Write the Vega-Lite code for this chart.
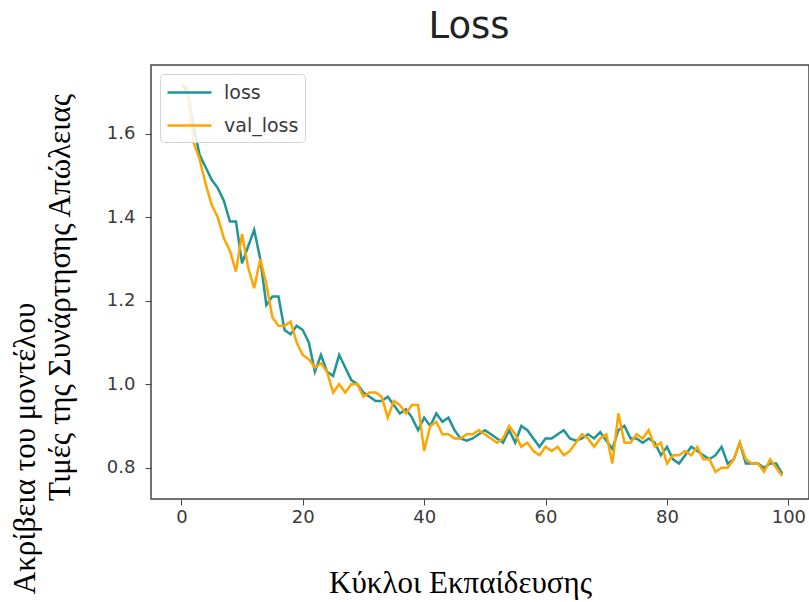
{
  "$schema": "https://vega.github.io/schema/vega-lite/v6.json",
  "width": 658,
  "height": 434,
  "autosize": {"type": "none"},
  "padding": {"left": 151, "top": 65, "right": 0, "bottom": 103},
  "background": "white",
  "title": {"text": "Loss", "font": "DejaVu Sans", "fontSize": 37, "fontWeight": "normal", "color": "#222222", "anchor": "middle", "dx": -11, "offset": 19},
  "config": {
    "view": {"stroke": "#444444", "strokeWidth": 1.5},
    "axis": {"grid": false, "domain": false, "tickColor": "#444444", "tickSize": 6, "labelFont": "DejaVu Sans", "labelFontSize": 18, "labelColor": "#3a3a3a", "titleFont": "Liberation Serif", "titleFontSize": 31, "titleFontWeight": "normal", "titleColor": "#000000"}
  },
  "data": {"values": [
    {"epoch":0,"loss":1.72,"val_loss":1.72},{"epoch":1,"loss":1.70,"val_loss":1.71},{"epoch":2,"loss":1.62,"val_loss":1.58},{"epoch":3,"loss":1.55,"val_loss":1.54},{"epoch":4,"loss":1.52,"val_loss":1.48},
    {"epoch":5,"loss":1.49,"val_loss":1.43},{"epoch":6,"loss":1.47,"val_loss":1.40},{"epoch":7,"loss":1.44,"val_loss":1.35},{"epoch":8,"loss":1.39,"val_loss":1.32},{"epoch":9,"loss":1.39,"val_loss":1.27},
    {"epoch":10,"loss":1.29,"val_loss":1.36},{"epoch":11,"loss":1.33,"val_loss":1.28},{"epoch":12,"loss":1.37,"val_loss":1.23},{"epoch":13,"loss":1.30,"val_loss":1.30},{"epoch":14,"loss":1.19,"val_loss":1.24},
    {"epoch":15,"loss":1.21,"val_loss":1.16},{"epoch":16,"loss":1.21,"val_loss":1.14},{"epoch":17,"loss":1.13,"val_loss":1.14},{"epoch":18,"loss":1.12,"val_loss":1.15},{"epoch":19,"loss":1.14,"val_loss":1.10},
    {"epoch":20,"loss":1.13,"val_loss":1.07},{"epoch":21,"loss":1.10,"val_loss":1.06},{"epoch":22,"loss":1.03,"val_loss":1.04},{"epoch":23,"loss":1.07,"val_loss":1.05},{"epoch":24,"loss":1.03,"val_loss":1.03},
    {"epoch":25,"loss":1.02,"val_loss":0.98},{"epoch":26,"loss":1.07,"val_loss":1.00},{"epoch":27,"loss":1.04,"val_loss":0.98},{"epoch":28,"loss":1.01,"val_loss":1.00},{"epoch":29,"loss":1.00,"val_loss":1.00},
    {"epoch":30,"loss":0.98,"val_loss":0.97},{"epoch":31,"loss":0.97,"val_loss":0.98},{"epoch":32,"loss":0.96,"val_loss":0.98},{"epoch":33,"loss":0.96,"val_loss":0.97},{"epoch":34,"loss":0.97,"val_loss":0.92},
    {"epoch":35,"loss":0.95,"val_loss":0.96},{"epoch":36,"loss":0.93,"val_loss":0.95},{"epoch":37,"loss":0.94,"val_loss":0.93},{"epoch":38,"loss":0.92,"val_loss":0.95},{"epoch":39,"loss":0.89,"val_loss":0.95},
    {"epoch":40,"loss":0.92,"val_loss":0.84},{"epoch":41,"loss":0.90,"val_loss":0.90},{"epoch":42,"loss":0.93,"val_loss":0.91},{"epoch":43,"loss":0.91,"val_loss":0.88},{"epoch":44,"loss":0.92,"val_loss":0.88},
    {"epoch":45,"loss":0.89,"val_loss":0.87},{"epoch":46,"loss":0.87,"val_loss":0.87},{"epoch":47,"loss":0.865,"val_loss":0.88},{"epoch":48,"loss":0.87,"val_loss":0.88},{"epoch":49,"loss":0.88,"val_loss":0.89},
    {"epoch":50,"loss":0.89,"val_loss":0.88},{"epoch":51,"loss":0.88,"val_loss":0.87},{"epoch":52,"loss":0.87,"val_loss":0.86},{"epoch":53,"loss":0.86,"val_loss":0.87},{"epoch":54,"loss":0.89,"val_loss":0.90},
    {"epoch":55,"loss":0.86,"val_loss":0.88},{"epoch":56,"loss":0.90,"val_loss":0.85},{"epoch":57,"loss":0.89,"val_loss":0.86},{"epoch":58,"loss":0.87,"val_loss":0.84},{"epoch":59,"loss":0.85,"val_loss":0.83},
    {"epoch":60,"loss":0.87,"val_loss":0.85},{"epoch":61,"loss":0.87,"val_loss":0.84},{"epoch":62,"loss":0.88,"val_loss":0.85},{"epoch":63,"loss":0.89,"val_loss":0.83},{"epoch":64,"loss":0.87,"val_loss":0.84},
    {"epoch":65,"loss":0.865,"val_loss":0.86},{"epoch":66,"loss":0.87,"val_loss":0.88},{"epoch":67,"loss":0.88,"val_loss":0.87},{"epoch":68,"loss":0.87,"val_loss":0.85},{"epoch":69,"loss":0.885,"val_loss":0.87},
    {"epoch":70,"loss":0.865,"val_loss":0.88},{"epoch":71,"loss":0.845,"val_loss":0.81},{"epoch":72,"loss":0.89,"val_loss":0.93},{"epoch":73,"loss":0.90,"val_loss":0.86},{"epoch":74,"loss":0.87,"val_loss":0.86},
    {"epoch":75,"loss":0.87,"val_loss":0.88},{"epoch":76,"loss":0.86,"val_loss":0.87},{"epoch":77,"loss":0.87,"val_loss":0.89},{"epoch":78,"loss":0.86,"val_loss":0.85},{"epoch":79,"loss":0.83,"val_loss":0.86},
    {"epoch":80,"loss":0.85,"val_loss":0.81},{"epoch":81,"loss":0.82,"val_loss":0.83},{"epoch":82,"loss":0.81,"val_loss":0.83},{"epoch":83,"loss":0.83,"val_loss":0.84},{"epoch":84,"loss":0.85,"val_loss":0.83},
    {"epoch":85,"loss":0.84,"val_loss":0.85},{"epoch":86,"loss":0.83,"val_loss":0.82},{"epoch":87,"loss":0.82,"val_loss":0.82},{"epoch":88,"loss":0.83,"val_loss":0.79},{"epoch":89,"loss":0.85,"val_loss":0.80},
    {"epoch":90,"loss":0.81,"val_loss":0.80},{"epoch":91,"loss":0.82,"val_loss":0.82},{"epoch":92,"loss":0.86,"val_loss":0.86},{"epoch":93,"loss":0.81,"val_loss":0.82},{"epoch":94,"loss":0.81,"val_loss":0.81},
    {"epoch":95,"loss":0.81,"val_loss":0.81},{"epoch":96,"loss":0.80,"val_loss":0.79},{"epoch":97,"loss":0.81,"val_loss":0.82},{"epoch":98,"loss":0.81,"val_loss":0.80},{"epoch":99,"loss":0.785,"val_loss":0.78}
  ]},
  "encoding": {
    "x": {"field": "epoch", "type": "quantitative",
      "scale": {"domain": [-5.0, 103.4], "nice": false, "zero": false},
      "axis": {"values": [0, 20, 40, 60, 80, 100], "labelPadding": 3, "title": "Κύκλοι Εκπαίδευσης", "titleX": 309, "titleY": 93, "titleBaseline": "alphabetic", "titleAlign": "center", "titleAnchor": null}}
  },
  "layer": [
    {
      "mark": {"type": "line", "strokeWidth": 2.5},
      "encoding": {
        "y": {"field": "loss", "type": "quantitative",
          "scale": {"domain": [0.725, 1.765], "nice": false, "zero": false},
          "axis": {"orient": "left", "values": [0.8, 1.0, 1.2, 1.4, 1.6], "format": ".1f", "labelPadding": 10,
            "title": "Τιμές της Συνάρτησης Απώλειας", "titleAngle": -90, "titleX": -82, "titleY": 232, "titleAlign": "center", "titleBaseline": "alphabetic"}},
        "color": {"datum": "loss", "type": "nominal",
          "scale": {"domain": ["loss", "val_loss"], "range": ["#1f9696", "#ffa500"]},
          "legend": {"orient": "top-left", "offset": 9, "title": null, "symbolType": "M-2,0H2", "symbolSize": 484, "symbolStrokeWidth": 2.5, "symbolOffset": 11,
            "labelFont": "DejaVu Sans", "labelFontSize": 19, "labelColor": "#3a3a3a", "labelOffset": 22,
            "fillColor": "rgba(255,255,255,0.85)", "strokeColor": "#d4d4d4", "cornerRadius": 4, "padding": 6, "rowPadding": 10}}
      }
    },
    {
      "mark": {"type": "line", "strokeWidth": 2.5},
      "encoding": {
        "y": {"field": "val_loss", "type": "quantitative",
          "scale": {"domain": [0.725, 1.765], "nice": false, "zero": false},
          "axis": {"orient": "left", "labels": false, "ticks": false, "domain": false,
            "title": "Ακρίβεια του μοντέλου", "titleAngle": -90, "titleX": -117, "titleY": 383, "titleAlign": "center", "titleBaseline": "alphabetic"}},
        "color": {"datum": "val_loss", "type": "nominal"}
      }
    }
  ],
  "resolve": {"axis": {"y": "independent"}}
}
